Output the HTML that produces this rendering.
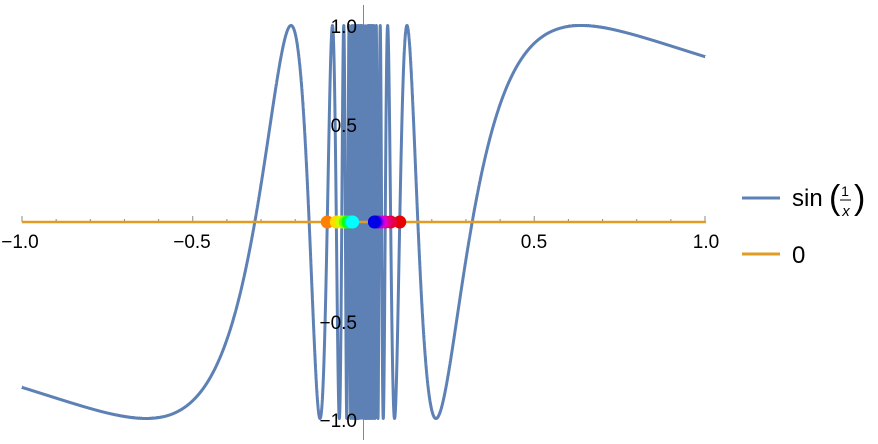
<!DOCTYPE html>
<html><head><meta charset="utf-8"><style>
body{margin:0;background:#fff}
svg{display:block}
text{font-family:"Liberation Sans","DejaVu Sans",sans-serif;fill:#000}
</style></head><body>
<svg id="s" width="878" height="444" viewBox="0 0 878 444" xmlns="http://www.w3.org/2000/svg">
<g id="ticks" stroke="#888" stroke-width="1"></g>
<line x1="22" y1="222" x2="706" y2="222" stroke="#888" stroke-width="1"/>
<line x1="363.5" y1="5" x2="363.5" y2="440" stroke="#888" stroke-width="1"/>
<path id="curve" fill="none" stroke="#5E81B5" stroke-width="3" stroke-linejoin="round"/>
<line x1="22" y1="222" x2="706" y2="222" stroke="#E19C24" stroke-width="2.6"/>
<g id="dots"></g>
<g font-size="19">
<text x="20" y="248" text-anchor="middle">−1.0</text>
<text x="192" y="248" text-anchor="middle">−0.5</text>
<text x="534" y="248" text-anchor="middle">0.5</text>
<text x="706" y="248" text-anchor="middle">1.0</text>
<text x="357" y="33" text-anchor="end">1.0</text>
<text x="357" y="132" text-anchor="end">0.5</text>
<text x="357" y="329" text-anchor="end">−0.5</text>
<text x="357" y="427" text-anchor="end">−1.0</text>
</g>
<line x1="742" y1="198" x2="780" y2="198" stroke="#5E81B5" stroke-width="3"/>
<text x="792" y="206" font-size="24">sin</text>
<text x="829" y="209" font-size="34" font-weight="100">(</text>
<text x="845" y="196" font-size="14" text-anchor="middle">1</text>
<line x1="840" y1="200" x2="851" y2="200" stroke="#000" stroke-width="1"/>
<text x="846" y="216" font-size="15" font-style="italic" text-anchor="middle">x</text>
<text x="854" y="209" font-size="34" font-weight="100">)</text>
<line x1="742" y1="254" x2="780" y2="254" stroke="#E19C24" stroke-width="3"/>
<text x="792" y="263" font-size="24">0</text>
</svg>
<script>
var X=function(x){return 363.5+x*341.5},Y=function(y){return 222-y*196.5};
var d="",N=40000;
for(var i=0;i<=N;i++){var x=-1+2*i/N;if(Math.abs(x)<1e-6)continue;var px=X(x),py=Y(Math.sin(1/x));d+=(d?"L":"M")+px.toFixed(2)+" "+py.toFixed(2);}
document.getElementById("curve").setAttribute("d",d);
var t="";
for(var k=-10;k<=10;k++){if(k==0)continue;var xx=X(k/10),h=(k%5==0)?6:3;t+='<line x1="'+xx+'" y1="'+(222-h)+'" x2="'+xx+'" y2="222"/>';}
for(var k=-10;k<=10;k++){if(k==0)continue;var yy=Y(k/10),w=(k%5==0)?6:3;t+='<line x1="363.5" y1="'+yy+'" x2="'+(363.5+w)+'" y2="'+yy+'"/>';}
document.getElementById("ticks").innerHTML=t;
var g="";
for(var n=3;n<=10;n++){var f=(n-3)/7;
var hn=30+150*f, hp=360-120*f;
g+='<circle cx="'+X(-1/(n*Math.PI))+'" cy="222" r="6.5" fill="hsl('+hn+',100%,50%)"/>';
g+='<circle cx="'+X(1/(n*Math.PI))+'" cy="222" r="6.5" fill="hsl('+(hp%360)+',100%,45%)"/>';}
document.getElementById("dots").innerHTML=g;
</script>
</body></html>
